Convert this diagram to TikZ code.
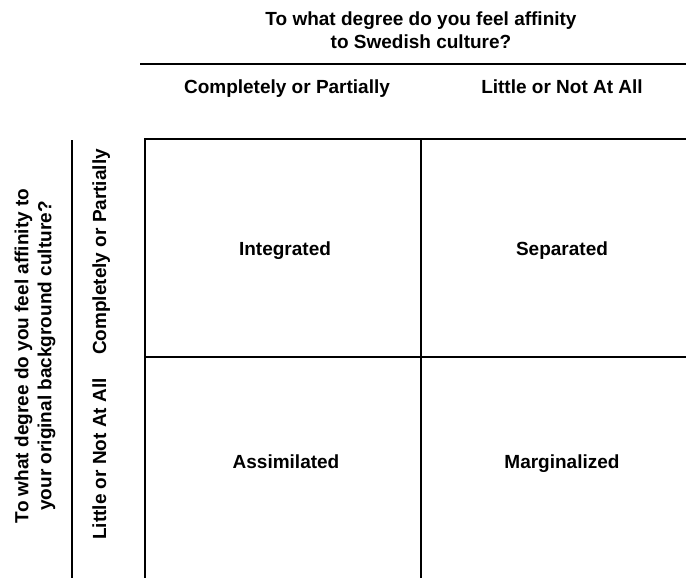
\documentclass[tikz,border=0pt]{standalone}
\usepackage{fontspec}
\setmainfont{Liberation Sans}
\usetikzlibrary{positioning}

\tikzset{lbl/.style={font=\bfseries\fontsize{19}{23}\selectfont, align=center},
         cell/.style={lbl, text height=14pt, text depth=4pt},
         grid/.style={line width=1.6pt}}

\begin{document}
\begin{tikzpicture}[x=1pt, y=-1pt]
\useasboundingbox (0,0) rectangle (686,578);

\node[lbl] (title) at (421,30) {To what degree do you feel affinity\\to Swedish culture?};
\node[cell] (colA) at (287,89) {Completely or Partially};
\node[cell] (colB) at (562,89) {Little or Not At All};

\node[lbl, rotate=90] (side) at (35,356) {To what degree do you feel affinity to\\your original background culture?};
\node[cell, rotate=90] (rowA) at (101,252) {Completely or Partially};
\node[cell, rotate=90] (rowB) at (101,459) {Little or Not At All};

\node[cell] (int) at (285,250) {Integrated};
\node[cell] (sep) at (562,250) {Separated};
\node[cell] (ass) at (286,463) {Assimilated};
\node[cell] (mar) at (562,463) {Marginalized};

\coordinate (hl) at (140,64);
\coordinate (hr) at (686,64);
\coordinate (vt) at (72,140);
\coordinate (vb) at (72,578);
\draw[grid] (hl) -- (hr);
\draw[grid] (vt) -- (vb);

\coordinate (tl) at (145,139);
\coordinate (tr) at (686,139);
\coordinate (bl) at (145,578);
\coordinate (tm) at (421,139);
\coordinate (bm) at (421,578);
\coordinate (ml) at (145,357);
\coordinate (mr) at (686,357);
\draw[grid] (tr) -- (tl) -- (bl);
\draw[grid] (tm) -- (bm);
\draw[grid] (ml) -- (mr);
\end{tikzpicture}
\end{document}
